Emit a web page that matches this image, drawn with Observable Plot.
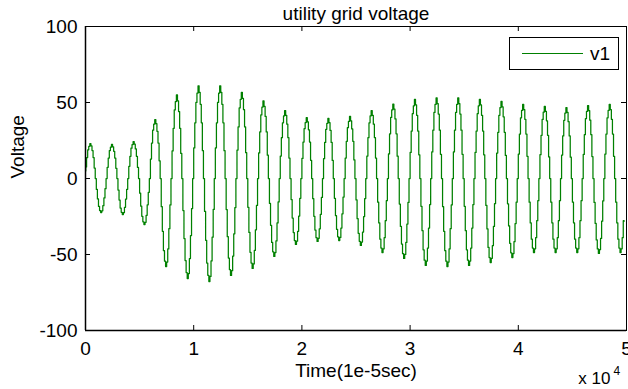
<!DOCTYPE html>
<html><head><meta charset="utf-8">
<script src="https://cdn.jsdelivr.net/npm/d3@7"></script>
<script src="https://cdn.jsdelivr.net/npm/@observablehq/plot@0.6"></script>
<style>
body{margin:0;background:#fff;}
#chart{position:relative;width:628px;height:389px;}
</style></head><body><div id="chart"></div>
<script>
// ---- data ----
const xTicks = [0, 10000, 20000, 30000, 40000, 50000];
const xTickLabels = ["0", "1", "2", "3", "4", "5"];
const yTicks = [-100, -50, 0, 50, 100];
const yTickLabels = ["-100", "-50", "0", "50", "100"];
const titleText = "utility grid voltage";
const xLabel = "Time(1e-5sec)";
const yLabel = "Voltage";
const seriesName = "v1";

// 50 Hz waveform, samples of 1e-5 s: one cycle = 2000 samples
const cycleLength = 2000;
const firstPeakTime = 450;
const peakValues = [23, 22.4, 24.3, 38.8, 55, 61, 61, 56.6, 51, 44.7, 40, 39.5, 40.8,
  44.7, 49, 52, 53, 53, 52, 50.7, 48.7, 47.4, 46.7, 48, 48.7];
const troughValues = [-22.4, -23.7, -30.3, -57.9, -65.8, -67.8, -63.8, -59.2, -51.3, -43.4,
  -41.4, -40.8, -44, -48.7, -52.6, -57.2, -57.9, -57.2, -55.3, -52, -48.7, -48.7, -48.7, -49.3, -48.7];
// stepped shape of one cycle, read from a zoomed cycle (phase from a peak, level relative to the half-cycle extreme)
const shapePhase = [0, 0.05, 0.1, 0.15, 0.2, 0.25, 0.3, 0.35, 0.4, 0.45, 0.5, 0.55, 0.6, 0.65, 0.7, 0.75, 0.8, 0.85, 0.9, 0.95];
const shapeLevel = [1, 0.93, 0.8, 0.6, 0.3, 0, -0.32, -0.6, -0.82, -0.94, -1, -0.95, -0.8, -0.57, -0.3, 0, 0.33, 0.6, 0.82, 0.92];
const startValue = 5;
const endTime = 49800;
const endValue = -28;

// ---- build the table ----
const data = [{t: 0, v: startValue}];
for (let n = -1; n < peakValues.length; n++) {
  for (let k = 0; k < shapePhase.length; k++) {
    const p = shapePhase[k];
    const t = firstPeakTime + cycleLength * (n + p);
    if (t <= 0 || t >= endTime) continue;
    const lvl = shapeLevel[k];
    let amp;
    if (p < 0.25) amp = peakValues[n];
    else if (p < 0.75) amp = -troughValues[n];
    else amp = peakValues[n + 1];
    if (amp === undefined) continue;
    data.push({t, v: lvl * amp});
  }
}
data.push({t: endTime, v: endValue});

const W = 628, H = 389, mL = 85, mR = 2, mT = 26, mB = 59;
const fw = W - mL - mR, fh = H - mT - mB, tk = 5;
const font = "'Liberation Sans', Arial, sans-serif";
const fs = 19;

const plot = Plot.plot({
  width: W, height: H,
  marginLeft: mL, marginRight: mR, marginTop: mT, marginBottom: mB,
  style: {fontFamily: font, fontSize: fs + "px", color: "#000", background: "#fff", overflow: "visible"},
  x: {domain: [0, 50000]},
  y: {domain: [-100, 100]},
  marks: [
    Plot.axisX(xTicks, {tickSize: 0, tickPadding: 11, tickFormat: d => xTickLabels[xTicks.indexOf(d)], label: null, fontSize: fs}),
    Plot.axisY(yTicks, {tickSize: 0, tickPadding: 8, tickFormat: d => yTickLabels[yTicks.indexOf(d)], label: null, fontSize: fs}),
    Plot.line(data, {x: "t", y: "v", stroke: "#008000", strokeWidth: 1.25, curve: "step"}),
    Plot.frame({stroke: "#000", strokeWidth: 1}),
    Plot.ruleX([0], {stroke: "#000", strokeWidth: 1.5}),
    Plot.ruleY([-100], {stroke: "#000", strokeWidth: 1.5}),
    Plot.tickX(xTicks, {x: d => d, insetTop: fh - tk, stroke: "#000"}),
    Plot.tickX(xTicks, {x: d => d, insetBottom: fh - tk, stroke: "#000"}),
    Plot.tickY(yTicks, {y: d => d, insetRight: fw - tk, stroke: "#000"}),
    Plot.tickY(yTicks, {y: d => d, insetLeft: fw - tk, stroke: "#000"}),
    Plot.text([titleText], {frameAnchor: "top", dy: -13, lineAnchor: "middle", fontSize: fs}),
    Plot.text([xLabel], {frameAnchor: "bottom", dy: 40, lineAnchor: "middle", fontSize: fs}),
    Plot.text([yLabel], {frameAnchor: "left", dx: -68, rotate: -90, lineAnchor: "middle", fontSize: fs}),
    Plot.text(["x 10"], {frameAnchor: "bottom-right", dx: -16, dy: 48, textAnchor: "end", lineAnchor: "middle", fontSize: 17}),
    Plot.text(["4"], {frameAnchor: "bottom-right", dx: -13, dy: 41, textAnchor: "start", lineAnchor: "middle", fontSize: 12})
  ]
});
document.getElementById("chart").appendChild(plot);

// legend box (layout only)
const svg = d3.select(plot);
const lg = svg.append("g");
lg.append("rect").attr("x", 509.5).attr("y", 37.5).attr("width", 109).attr("height", 32)
  .attr("fill", "#fff").attr("stroke", "#000");
lg.append("line").attr("x1", 522).attr("x2", 583).attr("y1", 53.5).attr("y2", 53.5)
  .attr("stroke", "#008000").attr("stroke-width", 1);
lg.append("text").attr("x", 590).attr("y", 53.5).attr("dy", "0.35em").attr("font-size", fs)
  .attr("text-anchor", "start").attr("font-family", font).attr("fill", "#000").text(seriesName);
</script></body></html>
